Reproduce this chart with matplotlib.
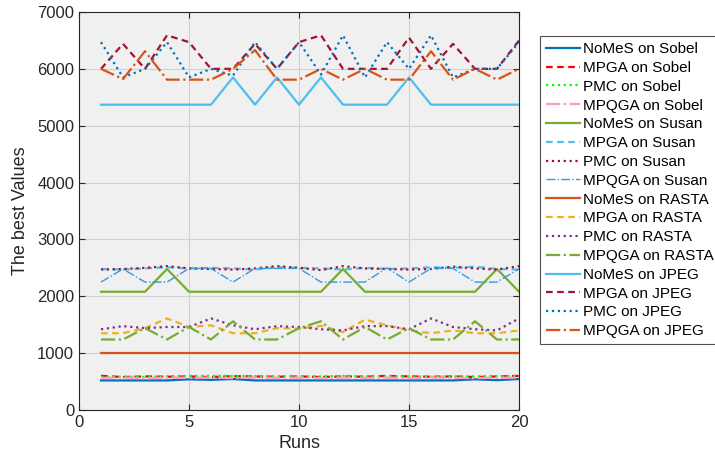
import matplotlib
matplotlib.use("Agg")
import matplotlib.pyplot as plt
import numpy as np

plt.rcParams['font.family'] = ['Liberation Sans', 'DejaVu Sans']

runs = np.arange(1, 21)

# Sobel
nomes_sobel = [520, 520, 520, 520, 540, 530, 545, 520, 520, 520, 520, 520, 520, 520, 520, 520, 520, 540, 525, 545]
mpga_sobel = [600, 580, 590, 585, 590, 580, 595, 590, 585, 590, 580, 590, 585, 600, 590, 585, 590, 580, 590, 600]
pmc_sobel = [580, 585, 580, 590, 600, 600, 600, 595, 590, 590, 590, 600, 590, 590, 590, 585, 590, 590, 590, 600]
mpqga_sobel = [565, 570, 560, 570, 565, 570, 560, 570, 565, 570, 560, 570, 565, 570, 560, 570, 565, 560, 570, 565]

# Susan
nomes_susan = [2080, 2080, 2080, 2480, 2080, 2080, 2080, 2080, 2080, 2080, 2080, 2480, 2080, 2080, 2080, 2080, 2080, 2080, 2480, 2080]
mpga_susan = [2480, 2470, 2490, 2510, 2490, 2500, 2490, 2470, 2510, 2500, 2490, 2470, 2500, 2480, 2490, 2510, 2500, 2520, 2480, 2470]
pmc_susan = [2470, 2480, 2500, 2530, 2490, 2480, 2470, 2490, 2530, 2500, 2460, 2530, 2490, 2480, 2470, 2480, 2520, 2490, 2470, 2530]
mpqga_susan = [2250, 2480, 2250, 2250, 2490, 2490, 2250, 2490, 2490, 2490, 2250, 2250, 2250, 2500, 2250, 2490, 2490, 2250, 2250, 2480]

# RASTA
nomes_rasta = [1010] * 20
mpga_rasta = [1350, 1350, 1440, 1610, 1460, 1490, 1350, 1350, 1440, 1430, 1480, 1370, 1590, 1490, 1400, 1350, 1400, 1350, 1350, 1400]
pmc_rasta = [1420, 1475, 1440, 1460, 1460, 1610, 1490, 1420, 1475, 1460, 1420, 1400, 1475, 1475, 1420, 1610, 1460, 1420, 1400, 1610]
mpqga_rasta = [1240, 1240, 1440, 1240, 1460, 1240, 1560, 1240, 1240, 1440, 1560, 1240, 1460, 1240, 1440, 1240, 1240, 1560, 1240, 1240]

# JPEG
nomes_jpeg = [5370, 5370, 5370, 5370, 5370, 5370, 5850, 5370, 5850, 5370, 5850, 5370, 5370, 5370, 5850, 5370, 5370, 5370, 5370, 5370]
mpga_jpeg = [6000, 6440, 6000, 6590, 6470, 6000, 6000, 6440, 6000, 6470, 6590, 6000, 6000, 6000, 6550, 6000, 6440, 6000, 6000, 6500]
pmc_jpeg = [6470, 5850, 6000, 6470, 5850, 6000, 5880, 6470, 6000, 6470, 5900, 6590, 5850, 6470, 6000, 6590, 5850, 6000, 6000, 6470]
mpqga_jpeg = [6000, 5820, 6310, 5810, 5810, 5810, 6000, 6330, 5810, 5810, 6000, 5810, 6000, 5810, 5810, 6310, 5810, 6000, 5810, 6000]

series = [
    ("NoMeS on Sobel", nomes_sobel, "#0072BD", "-"),
    ("MPGA on Sobel", mpga_sobel, "#FF0000", (0, (3, 2))),
    ("PMC on Sobel", pmc_sobel, "#00FF00", ":"),
    ("MPQGA on Sobel", mpqga_sobel, "#FF99CC", "-."),
    ("NoMeS on Susan", nomes_susan, "#77AC30", "-"),
    ("MPGA on Susan", mpga_susan, "#4DBEEE", (0, (3, 2))),
    ("PMC on Susan", pmc_susan, "#A2142F", ":"),
    ("MPQGA on Susan", mpqga_susan, "#3C96DC", "-."),
    ("NoMeS on RASTA", nomes_rasta, "#D95319", "-"),
    ("MPGA on RASTA", mpga_rasta, "#EDB120", (0, (3, 2))),
    ("PMC on RASTA", pmc_rasta, "#7E2F8E", ":"),
    ("MPQGA on RASTA", mpqga_rasta, "#77AC30", "-."),
    ("NoMeS on JPEG", nomes_jpeg, "#4DBEEE", "-"),
    ("MPGA on JPEG", mpga_jpeg, "#A2142F", (0, (3, 2))),
    ("PMC on JPEG", pmc_jpeg, "#0072BD", ":"),
    ("MPQGA on JPEG", mpqga_jpeg, "#D95319", "-."),
]

fig = plt.figure(figsize=(7.15, 4.63), dpi=100)
ax = fig.add_axes([79 / 715, 53 / 463, 440 / 715, 398 / 463])
ax.set_facecolor("#F0F0F0")

for name, vals, col, ls in series:
    lw = 1.0 if name == "MPQGA on Susan" else 1.6
    ax.plot(runs, vals, color=col, linestyle=ls, linewidth=lw, label=name)

ax.set_xlim(0, 20)
ax.set_ylim(0, 7000)
ax.set_xticks([0, 5, 10, 15, 20])
ax.set_yticks(range(0, 7001, 1000))
ax.grid(True, color="#D0D0D0", linewidth=0.8)
ax.set_axisbelow(True)
ax.tick_params(direction="in", top=True, right=True, labelsize=12,
               colors="#262626", length=4)
for sp in ax.spines.values():
    sp.set_color("#262626")
    sp.set_linewidth(0.8)
ax.set_xlabel("Runs", fontsize=13, color="#262626", labelpad=4)
ax.set_ylabel("The best Values", fontsize=13, color="#262626", labelpad=6)

leg = ax.legend(loc="upper left", bbox_to_anchor=(540 / 715, 427 / 463),
                bbox_transform=fig.transFigure, fontsize=11, frameon=True,
                fancybox=False, edgecolor="#262626", handlelength=2.2,
                handletextpad=0.2, labelspacing=0.315, borderpad=0.4,
                borderaxespad=0)
leg.get_frame().set_linewidth(0.8)

fig.savefig("out.png", dpi=100)
